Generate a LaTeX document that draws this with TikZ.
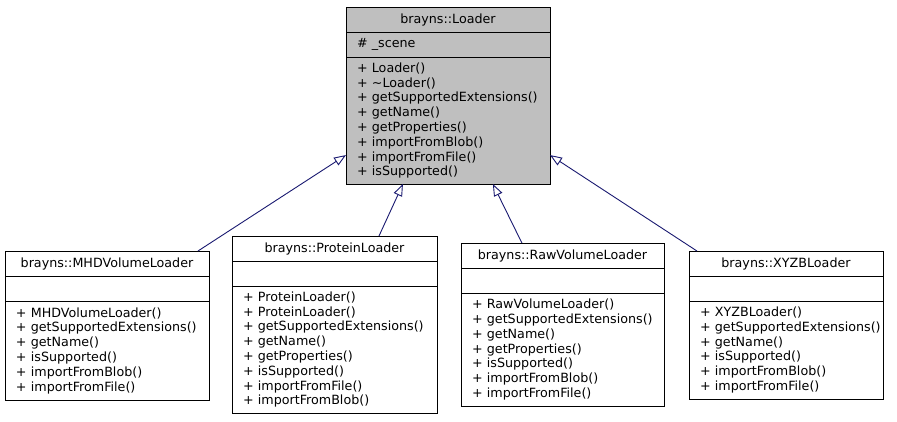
\documentclass[tikz,border=0pt]{standalone}
\usepackage{fontspec}
\setmainfont{DejaVu Sans}
\usetikzlibrary{positioning,arrows.meta,calc}
\definecolor{edgeblue}{HTML}{191970}
\definecolor{basegray}{HTML}{BFBFBF}

\begin{document}
\begin{tikzpicture}[x=1pt,y=-1pt,
    part/.style={draw=black, line width=1pt, inner sep=0pt, outer sep=0pt, font=\fontsize{12.7}{14.8}\selectfont},
    head/.style={part, minimum height=25pt, align=center, anchor=north west, text width=#1},
    slot/.style={part, align=left, text width=#1, execute at begin node={\leftskip=11pt\relax}},
    edge/.style={draw=edgeblue, line width=0.9pt, -{Triangle[length=12pt, width=9pt, fill=white]}}]

    \useasboundingbox (0,0) rectangle (897,421);

    % base class
    \node[head=204pt, fill=basegray] (loadert) at (346,7) {brayns::Loader};
    \node[slot=204pt, fill=basegray, minimum height=25pt, below=0pt of loadert] (loadera) {\# \_scene};
    \node[slot=204pt, fill=basegray, minimum height=127pt, below=0pt of loadera] (loaderm)
        {+ Loader()\\+ \textasciitilde Loader()\\+ getSupportedExtensions()\\+ getName()\\+ getProperties()\\+ importFromBlob()\\+ importFromFile()\\+ isSupported()};

    % derived classes
    \node[head=204pt] (mhdt) at (5,251) {brayns::MHDVolumeLoader};
    \node[slot=204pt, minimum height=25pt, below=0pt of mhdt] (mhda) {};
    \node[slot=204pt, minimum height=99pt, below=0pt of mhda] (mhdm)
        {+ MHDVolumeLoader()\\+ getSupportedExtensions()\\+ getName()\\+ isSupported()\\+ importFromBlob()\\+ importFromFile()};

    \node[head=205pt] (prott) at (232,236) {brayns::ProteinLoader};
    \node[slot=205pt, minimum height=25pt, below=0pt of prott] (prota) {};
    \node[slot=205pt, minimum height=127pt, below=0pt of prota] (protm)
        {+ ProteinLoader()\\+ ProteinLoader()\\+ getSupportedExtensions()\\+ getName()\\+ getProperties()\\+ isSupported()\\+ importFromFile()\\+ importFromBlob()};

    \node[head=203pt] (rawt) at (461,243) {brayns::RawVolumeLoader};
    \node[slot=203pt, minimum height=25pt, below=0pt of rawt] (rawa) {};
    \node[slot=203pt, minimum height=113pt, below=0pt of rawa] (rawm)
        {+ RawVolumeLoader()\\+ getSupportedExtensions()\\+ getName()\\+ getProperties()\\+ isSupported()\\+ importFromBlob()\\+ importFromFile()};

    \node[head=194pt] (xyzbt) at (689,251) {brayns::XYZBLoader};
    \node[slot=194pt, minimum height=25pt, below=0pt of xyzbt] (xyzba) {};
    \node[slot=194pt, minimum height=98pt, below=0pt of xyzba] (xyzbm)
        {+ XYZBLoader()\\+ getSupportedExtensions()\\+ getName()\\+ isSupported()\\+ importFromBlob()\\+ importFromFile()};

    % inheritance
    \draw[edge] ($(mhdt.north west)!0.946!(mhdt.north east)$) -- ($(loaderm.south west)!0.228!(loaderm.north west)$);
    \draw[edge] ($(prott.north west)!0.717!(prott.north east)$) -- ($(loaderm.south west)!0.279!(loaderm.south east)$);
    \draw[edge] ($(rawt.north west)!0.30!(rawt.north east)$) -- ($(loaderm.south west)!0.72!(loaderm.south east)$);
    \draw[edge] ($(xyzbt.north west)!0.041!(xyzbt.north east)$) -- ($(loaderm.south east)!0.228!(loaderm.north east)$);

\end{tikzpicture}
\end{document}
